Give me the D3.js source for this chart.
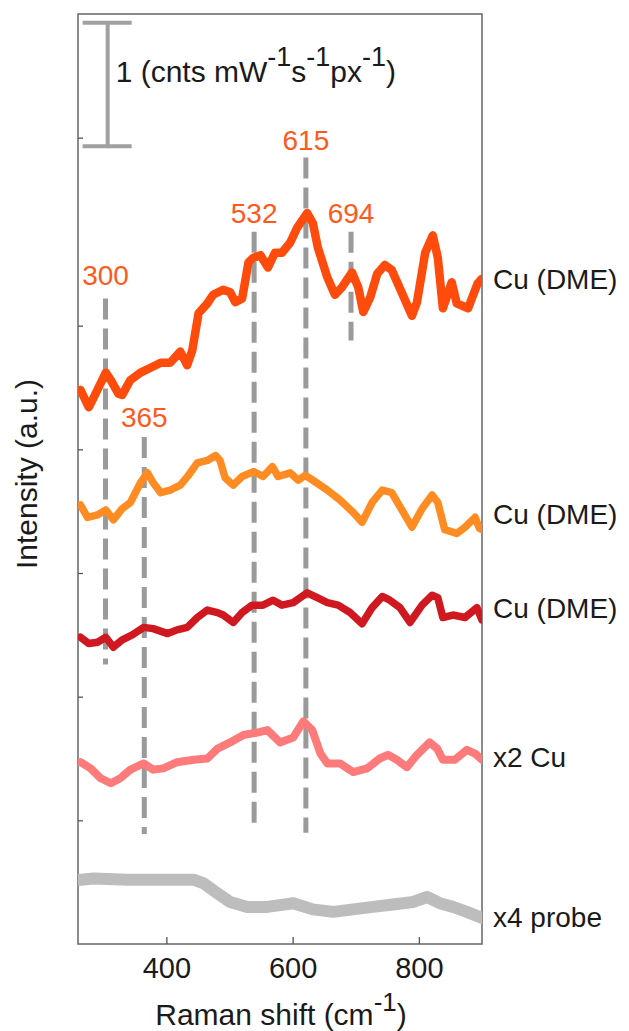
<!DOCTYPE html>
<html>
<head>
<meta charset="utf-8">
<script src="https://cdn.jsdelivr.net/npm/d3@7"></script>
<style>
  html, body { margin: 0; padding: 0; background: #fff; }
  text { font-family: "Liberation Sans", Arial, Helvetica, sans-serif; }
</style>
</head>
<body>
<svg id="chart" width="629" height="1031"></svg>
<script>
// ---------------- data ----------------
const xTicks = [400, 600, 800];
const yTicks = [1, 2, 3, 4, 5, 6.52];

// Raman shift (cm-1), intensity (a.u., offset stacked)
const cuDME1 = [[264,4.48],[277,4.34],[285,4.42],[304,4.62],[312,4.56],[324,4.45],[330,4.44],[343,4.56],[359,4.62],[375,4.66],[391,4.70],[406,4.70],[422,4.79],[433,4.68],[441,4.80],[451,5.10],[465,5.18],[474,5.25],[490,5.29],[501,5.27],[509,5.19],[520,5.22],[530,5.51],[538,5.55],[549,5.57],[561,5.47],[572,5.59],[583,5.59],[596,5.67],[607,5.79],[623,5.91],[632,5.83],[640,5.63],[655,5.39],[667,5.25],[678,5.31],[694,5.43],[704,5.31],[712,5.11],[723,5.23],[734,5.42],[746,5.49],[757,5.45],[770,5.30],[789,5.08],[797,5.19],[810,5.59],[822,5.73],[830,5.55],[838,5.14],[852,5.35],[860,5.18],[878,5.14],[893,5.34],[900,5.38]];
const cuDME2 = [[264,3.55],[275,3.45],[291,3.47],[304,3.51],[316,3.43],[330,3.52],[343,3.57],[359,3.73],[370,3.81],[379,3.73],[391,3.65],[406,3.67],[422,3.71],[435,3.79],[449,3.89],[465,3.91],[478,3.95],[485,3.91],[493,3.77],[506,3.71],[520,3.78],[538,3.82],[553,3.78],[568,3.86],[577,3.78],[596,3.81],[609,3.75],[620,3.79],[632,3.75],[655,3.67],[675,3.59],[696,3.49],[710,3.41],[726,3.57],[742,3.67],[757,3.65],[773,3.51],[789,3.37],[805,3.52],[821,3.63],[830,3.57],[841,3.35],[860,3.32],[873,3.37],[889,3.45],[896,3.36],[900,3.35]];
const cuDME3 = [[264,2.48],[277,2.43],[291,2.44],[304,2.48],[316,2.40],[330,2.46],[346,2.50],[364,2.56],[379,2.55],[402,2.51],[417,2.54],[433,2.56],[449,2.64],[465,2.70],[481,2.68],[490,2.66],[506,2.60],[520,2.68],[536,2.74],[553,2.74],[569,2.78],[583,2.74],[601,2.76],[623,2.84],[639,2.80],[655,2.76],[672,2.74],[691,2.68],[710,2.59],[726,2.72],[742,2.81],[754,2.78],[770,2.72],[786,2.60],[805,2.74],[821,2.82],[830,2.80],[838,2.64],[854,2.66],[873,2.64],[892,2.72],[900,2.62]];
const cuX2 = [[264,1.47],[280,1.42],[296,1.34],[312,1.30],[327,1.34],[343,1.41],[364,1.46],[379,1.41],[395,1.42],[417,1.47],[443,1.49],[465,1.50],[481,1.58],[501,1.63],[522,1.69],[544,1.71],[560,1.73],[580,1.63],[601,1.67],[617,1.80],[631,1.73],[644,1.54],[655,1.46],[675,1.46],[696,1.39],[718,1.42],[738,1.50],[751,1.53],[765,1.49],[781,1.43],[797,1.53],[817,1.63],[829,1.58],[838,1.49],[857,1.49],[876,1.57],[889,1.54],[900,1.49]];
const probeX4 = [[264,0.52],[285,0.53],[338,0.52],[391,0.52],[443,0.52],[459,0.49],[481,0.41],[501,0.34],[528,0.30],[560,0.30],[601,0.33],[632,0.28],[664,0.26],[696,0.28],[727,0.30],[759,0.32],[791,0.34],[813,0.38],[833,0.33],[854,0.30],[876,0.26],[900,0.21]];

const seriesNames = ["Cu (DME)", "Cu (DME)", "Cu (DME)", "x2 Cu", "x4 probe"];

// peak markers
const peakLabels = ["300", "365", "532", "615", "694"];
const peakShift  = [303.6, 365, 539, 621, 692.5];
const peakTop    = [5.22, 4.10, 5.76, 6.36, 5.76];
const peakBottom = [2.26, 0.89, 0.93, 0.90, 4.88];

// scale bar: 1 unit
const scaleBarShift = 307;
const scaleBarFrom = 6.45;
const scaleBarTo = 7.45;

// ---------------- layout & style ----------------
const W = 629, H = 1031;
const M = { left: 78, top: 14, right: 147, bottom: 87 };
const FONT = 28;
const seriesColors = ["#ff4b0c", "#ff8c22", "#d01820", "#ff7b7b", "#bdbdbd"];
const seriesWidths = [8.5, 7.5, 7.5, 8, 12];
const labelAnchor = [5.30, 3.40, 2.635, 1.431, 0.137];
const peakLabelY = [5.33, 4.18, 5.83, 6.42, 5.83];

const svg = d3.select("#chart");
const x = d3.scaleLinear().domain([260, 900]).range([M.left, W - M.right]);
const y = d3.scaleLinear().domain([0, 7.52]).range([H - M.bottom, M.top]);

// frame
svg.append("rect")
  .attr("x", M.left).attr("y", M.top)
  .attr("width", W - M.right - M.left).attr("height", H - M.bottom - M.top)
  .attr("fill", "none").attr("stroke", "#666").attr("stroke-width", 1.5);

// bottom axis
const gx = svg.append("g")
  .attr("transform", `translate(0,${H - M.bottom})`)
  .call(d3.axisBottom(x).tickValues(xTicks).tickSizeInner(-7).tickSizeOuter(0).tickPadding(13));
gx.select(".domain").remove();
gx.selectAll(".tick line").attr("stroke", "#555").attr("stroke-width", 1.3);
gx.selectAll(".tick text").attr("font-size", 29).attr("fill", "#1a1a1a")
  .style("font-family", '"Liberation Sans", Arial, sans-serif');

// left axis (ticks only)
const gy = svg.append("g")
  .attr("transform", `translate(${M.left},0)`)
  .call(d3.axisLeft(y).tickValues(yTicks).tickSizeInner(-5).tickSizeOuter(0).tickFormat(""));
gy.select(".domain").remove();
gy.selectAll(".tick line").attr("stroke", "#555").attr("stroke-width", 1.3);

// peak dashed lines
peakShift.forEach((p, i) => {
  svg.append("line")
    .attr("x1", x(p)).attr("x2", x(p))
    .attr("y1", y(peakTop[i])).attr("y2", y(peakBottom[i]))
    .attr("stroke", "#9a9a9a").attr("stroke-width", 5)
    .attr("stroke-dasharray", "21,9");
});

// curves
const line = d3.line().x(d => x(d[0])).y(d => y(d[1]));
const allSeries = [cuDME1, cuDME2, cuDME3, cuX2, probeX4];
svg.append("clipPath").attr("id", "plotclip")
  .append("rect").attr("x", M.left).attr("y", M.top)
  .attr("width", W - M.right - M.left).attr("height", H - M.bottom - M.top);
const curves = svg.append("g").attr("clip-path", "url(#plotclip)");
[4, 3, 2, 1, 0].forEach(i => {
  curves.append("path")
    .datum(allSeries[i])
    .attr("d", line)
    .attr("fill", "none")
    .attr("stroke", seriesColors[i])
    .attr("stroke-width", seriesWidths[i])
    .attr("stroke-linejoin", "round")
    .attr("stroke-linecap", "round");
});

// peak labels
peakLabels.forEach((t, i) => {
  svg.append("text")
    .attr("x", x(peakShift[i])).attr("y", y(peakLabelY[i]))
    .attr("text-anchor", "middle")
    .attr("font-size", FONT).attr("fill", "#ff5a1e")
    .text(t);
});

// series labels
seriesNames.forEach((t, i) => {
  svg.append("text")
    .attr("x", W - M.right + 11).attr("y", y(labelAnchor[i]))
    .attr("font-size", FONT).attr("fill", "#1a1a1a")
    .text(t);
});

// scale bar
const sbx = x(scaleBarShift);
svg.append("line").attr("x1", sbx).attr("x2", sbx)
  .attr("y1", y(scaleBarFrom)).attr("y2", y(scaleBarTo))
  .attr("stroke", "#a0a0a0").attr("stroke-width", 4);
[scaleBarFrom, scaleBarTo].forEach(v => {
  svg.append("line").attr("x1", sbx - 25).attr("x2", sbx + 24)
    .attr("y1", y(v)).attr("y2", y(v))
    .attr("stroke", "#a0a0a0").attr("stroke-width", 4);
});
const st = svg.append("text").attr("x", sbx + 8).attr("y", 82)
  .attr("font-size", 30).attr("fill", "#1a1a1a");
st.append("tspan").text("1 (cnts mW");
st.append("tspan").attr("dy", -16).attr("font-size", 27).text("-1");
st.append("tspan").attr("dy", 16).text("s");
st.append("tspan").attr("dy", -16).attr("font-size", 27).text("-1");
st.append("tspan").attr("dy", 16).text("px");
st.append("tspan").attr("dy", -16).attr("font-size", 27).text("-1");
st.append("tspan").attr("dy", 16).text(")");

// x axis title
const xt = svg.append("text")
  .attr("x", 281).attr("y", 1025)
  .attr("text-anchor", "middle").attr("font-size", 30).attr("fill", "#1a1a1a");
xt.append("tspan").text("Raman shift (cm");
xt.append("tspan").attr("dy", -14).attr("font-size", 26).text("-1");
xt.append("tspan").attr("dy", 14).text(")");

// y axis title
svg.append("text")
  .attr("transform", `translate(37,474) rotate(-90)`)
  .attr("text-anchor", "middle").attr("font-size", 30).attr("fill", "#1a1a1a")
  .text("Intensity (a.u.)");
</script>
</body>
</html>
